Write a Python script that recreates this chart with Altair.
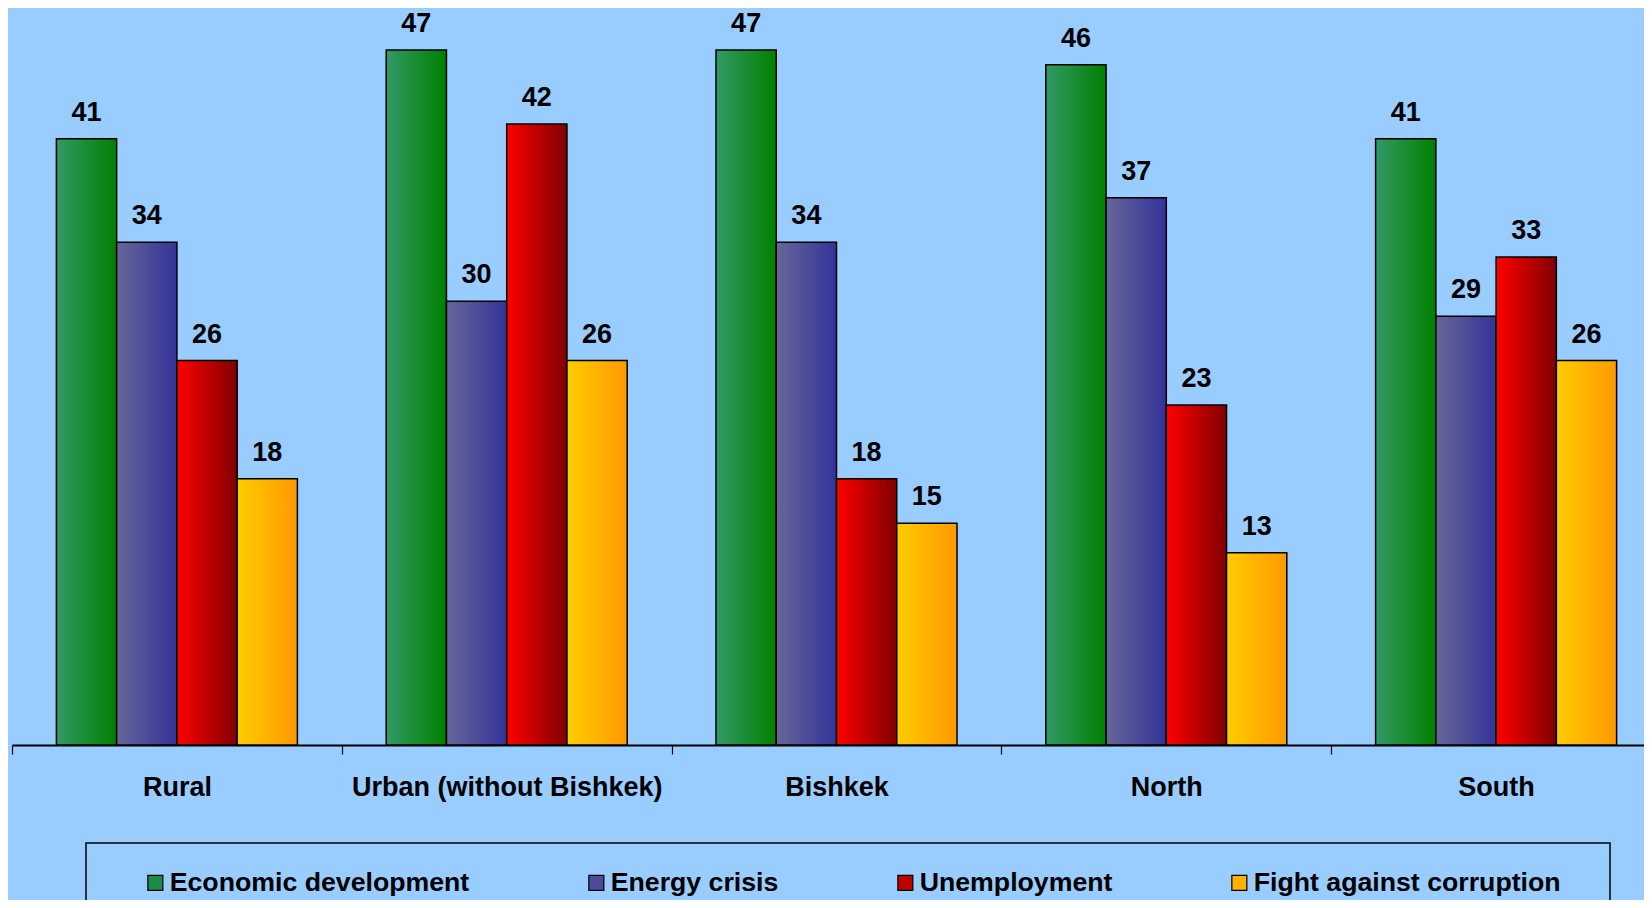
import altair as alt
import pandas as pd

regions = ["Rural", "Urban (without Bishkek)", "Bishkek", "North", "South"]
series = ["Economic development", "Energy crisis", "Unemployment", "Fight against corruption"]
econ = [41, 47, 47, 46, 41]
energy = [34, 30, 34, 37, 29]
unemp = [26, 42, 18, 23, 33]
corr = [18, 26, 15, 13, 26]

solid = ["#1f8a45", "#4b4b99", "#c00000", "#ffb300"]
grad_left = ["#339966", "#666699", "#ff0000", "#ffcc00"]
grad_right = ["#008000", "#333399", "#800000", "#ff9900"]

rows = []
for i, r in enumerate(regions):
    for s, vals in zip(series, [econ, energy, unemp, corr]):
        rows.append({"region": r, "series": s, "value": vals[i]})
df = pd.DataFrame(rows)

FONT = "Liberation Sans"

x = alt.X(
    "region:N", sort=regions,
    scale=alt.Scale(range=[0, 1649], paddingInner=0, paddingOuter=0),
    axis=alt.Axis(title=None, labelAngle=0, tickBand="extent", domainColor="black",
                  domainWidth=2, tickColor="black", tickWidth=1.2, tickSize=9,
                  labelPadding=20, labelFont=FONT, labelFontSize=27,
                  labelFontWeight="bold", labelColor="black", grid=False, labelLimit=0),
)
xo = alt.XOffset("series:N", sort=series,
                 scale=alt.Scale(domain=series, paddingInner=0, paddingOuter=0.737))
y = alt.Y("value:Q", scale=alt.Scale(domain=[0, 49.5], nice=False, zero=True), axis=None)

base = alt.Chart(df).encode(x=x, xOffset=xo, y=y)

legend_layer = base.mark_bar().encode(
    color=alt.Color(
        "series:N", sort=series,
        scale=alt.Scale(domain=series, range=solid),
        legend=alt.Legend(
            title=None, orient="none", legendX=130, legendY=856,
            direction="horizontal", columns=4, symbolType="square", symbolSize=225,
            symbolStrokeColor="black", symbolStrokeWidth=1.2,
            labelFont=FONT, labelFontSize=26.7, labelFontWeight="bold",
            labelColor="black", labelOffset=1, columnPadding=113, padding=0,
            labelLimit=0,
        ),
    )
)

layers = [legend_layer]
for s, c0, c1 in zip(series, grad_left, grad_right):
    g = alt.Gradient(
        gradient="linear",
        stops=[alt.GradientStop(color=c0, offset=0), alt.GradientStop(color=c1, offset=1)],
        x1=0, x2=1, y1=0, y2=0,
    )
    layers.append(
        base.transform_filter(alt.datum.series == s).mark_bar(
            fill=g, stroke="black", strokeWidth=1.5
        )
    )

text = base.mark_text(
    font=FONT, fontSize=27, fontWeight="bold", color="black",
    baseline="alphabetic", dy=-18,
).encode(text="value:Q")

frame = alt.Chart(pd.DataFrame({"f": [0]})).mark_rect(
    fillOpacity=0, stroke="black", strokeWidth=1.5
).encode(x=alt.value(74), x2=alt.value(1598), y=alt.value(830), y2=alt.value(1000))

chart = alt.layer(*layers, text, frame).properties(
    width=1632, height=732, background="#99ccff",
    padding={"left": 4, "top": 5, "right": 0, "bottom": 155},
    autosize=alt.AutoSizeParams(type="none"),
).configure_view(stroke="transparent")

chart.save("out.html", embed_options={"renderer": "svg", "actions": False})
